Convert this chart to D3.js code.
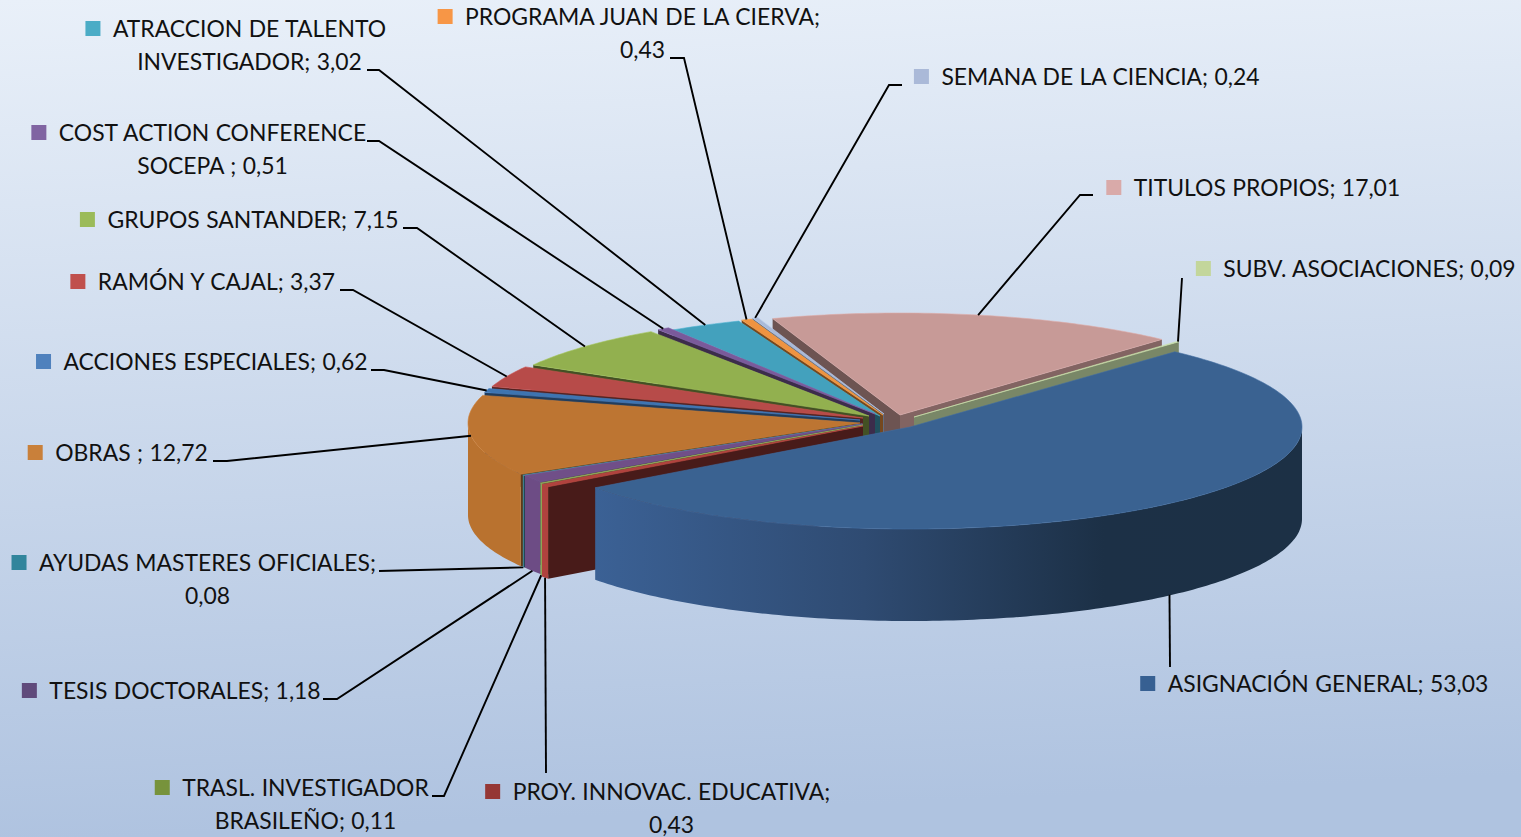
<!DOCTYPE html>
<html>
<head>
<meta charset="utf-8">
<script src="https://cdn.jsdelivr.net/npm/d3@7"></script>
<style>
    html, body { margin: 0; padding: 0; overflow: hidden; }
    text { font-family: Lato, "Open Sans", sans-serif; font-size: 22.9px; word-spacing: 0.6px; fill: #111; }
</style>
</head>
<body>
<div id="chart"></div>
<script>
const width = 1521;
const height = 837;

// data, in pie order (clockwise)
const categories = [
    "ASIGNACIÓN GENERAL", "PROY. INNOVAC. EDUCATIVA", "TRASL. INVESTIGADOR BRASILEÑO",
    "TESIS DOCTORALES", "AYUDAS MASTERES OFICIALES", "OBRAS", "ACCIONES ESPECIALES",
    "RAMÓN Y CAJAL", "GRUPOS SANTANDER", "COST ACTION CONFERENCE SOCEPA",
    "ATRACCION DE TALENTO INVESTIGADOR", "PROGRAMA JUAN DE LA CIERVA", "SEMANA DE LA CIENCIA",
    "TITULOS PROPIOS", "SUBV. ASOCIACIONES"
];
const values = [53.03, 0.43, 0.11, 1.18, 0.08, 12.72, 0.62, 3.37, 7.15, 0.51, 3.02, 0.43, 0.24, 17.01, 0.09];
const labelLines = [
    ["ASIGNACIÓN GENERAL; 53,03"],
    ["PROY. INNOVAC. EDUCATIVA;", "0,43"],
    ["TRASL. INVESTIGADOR", "BRASILEÑO; 0,11"],
    ["TESIS DOCTORALES; 1,18"],
    ["AYUDAS MASTERES OFICIALES;", "0,08"],
    ["OBRAS ; 12,72"],
    ["ACCIONES ESPECIALES; 0,62"],
    ["RAMÓN Y CAJAL; 3,37"],
    ["GRUPOS SANTANDER; 7,15"],
    ["COST ACTION CONFERENCE", "SOCEPA ; 0,51"],
    ["ATRACCION DE TALENTO", "INVESTIGADOR; 3,02"],
    ["PROGRAMA JUAN DE LA CIERVA;", "0,43"],
    ["SEMANA DE LA CIENCIA; 0,24"],
    ["TITULOS PROPIOS; 17,01"],
    ["SUBV. ASOCIACIONES; 0,09"]
];

// colours
const topColors = ["#3a6291", "#b0423e", "#8fa858", "#704f88", "#3a8fa6", "#bd7532", "#3e74b0", "#b74b49",
    "#92b04f", "#7a5a9a", "#43a1bd", "#ef9340", "#a9bad8", "#c79a97", "#b9cf9e"];
const wallColors = ["url(#blueWall)", "#b0423e", "#8fa858", "#6d4c85", "#3a8fa6", "#b9722f", "#3e74b0", "#b74b49",
    "#92b04f", "#7a5a9a", "#43a1bd", "#ef9340", "#a9bad8", "#c79a97", "#7c8660"];
const keyColors = ["#376092", "#953735", "#77933c", "#604a7b", "#31859c", "#c9803a", "#4f81bd", "#c0504d",
    "#9bbb59", "#8064a2", "#4bacc6", "#f79646", "#aab9d8", "#d9aaa9", "#c3d69b"];
const sideDarken = [2, 2.5, 2.2, 2.2, 2.2, 2, 1.8, 2.2, 2.2, 2, 2, 2, 1.5, 1.7, 1];

// pie geometry
const ry = 102;
const depth = 92;
const startDeg = 42.5;
// the picture has a bit of perspective, some back slices come out narrower
const sliceRx = [392, 392, 392, 392, 392, 392, 390, 390, 388, 386, 386, 386, 386, 390, 392];
// where each slice's tip ended up after the explosion
const sliceTips = [[910, 427], [863, 426], [863, 425], [863, 424], [862, 424], [860, 423], [860, 420], [863, 418],
    [869, 416], [875, 414], [880, 416], [883, 415], [884, 414], [900, 415], [914, 417]];

// label layout: text centre x, first line centre y, then the leader start points
const labelCx = [1328, 671.5, 305.5, 185, 207.5, 131.5, 215.5, 216.5, 253, 212.5, 249.5, 642.5, 1100.5, 1267, 1369.5];
const labelY = [684, 792, 788, 691, 563, 453, 362, 282, 220, 133, 29, 17, 77, 188, 269];
const leaderStart = [
    [[1170, 667]],
    [[546, 773]],
    [[432, 796], [444, 796]],
    [[323, 699], [337, 699]],
    [[379, 571]],
    [[213, 461], [227, 461]],
    [[371, 370], [384, 370]],
    [[340, 290], [353, 290]],
    [[403, 228], [417, 228]],
    [[367, 141], [379, 141]],
    [[367, 70], [379, 70]],
    [[670, 58], [684, 58]],
    [[902, 85], [889, 85]],
    [[1093, 195], [1080, 195]],
    [[1182, 278]]
];
// the big slice's leader runs straight down, a little left of its mid angle
const leaderNudge = [-3, 0, 0, 0, 0, 0, 0, 0, 0, 0, 0, 0, 0, 0, 0];

const svg = d3.select("#chart")
    .append("svg")
    .attr("width", width)
    .attr("height", height)
    .style("display", "block");

const defs = svg.append("defs");

const bg = defs.append("linearGradient")
    .attr("id", "bg")
    .attr("x1", 0).attr("y1", 0).attr("x2", 0.08).attr("y2", 1);
bg.append("stop").attr("offset", "0%").attr("stop-color", "#e9f0f9");
bg.append("stop").attr("offset", "100%").attr("stop-color", "#afc3e0");

const blueWall = defs.append("linearGradient")
    .attr("id", "blueWall")
    .attr("gradientUnits", "userSpaceOnUse")
    .attr("x1", 595).attr("y1", 0).attr("x2", 1302).attr("y2", 0);
blueWall.append("stop").attr("offset", "0%").attr("stop-color", "#3b6195");
blueWall.append("stop").attr("offset", "38%").attr("stop-color", "#2f4b72");
blueWall.append("stop").attr("offset", "72%").attr("stop-color", "#1c3046");
blueWall.append("stop").attr("offset", "100%").attr("stop-color", "#1c3045");

svg.append("rect")
    .attr("width", width)
    .attr("height", height)
    .attr("fill", "url(#bg)");

const toRad = d => d * Math.PI / 180;

const slices = d3.pie()
    .sort(null)
    .startAngle(toRad(startDeg))
    .endAngle(toRad(startDeg + 360))(values);

slices.forEach((d, i) => {
    d.tip = sliceTips[i];
    d.rx = sliceRx[i];
    d.mid = (d.startAngle + d.endAngle) / 2;
    d.index = i;
});

function rim(d, a, drop) {
    return [d.tip[0] + Math.sin(a) * d.rx, d.tip[1] - Math.cos(a) * ry + (drop || 0)];
}

function rimPoints(d, a0, a1, drop) {
    const n = Math.max(2, Math.ceil((a1 - a0) / toRad(1)));
    return d3.range(n + 1).map(k => rim(d, a0 + (a1 - a0) * k / n, drop));
}

const line = d3.line();
const closed = pts => line(pts) + "Z";

// back slices first
const drawOrder = slices.slice().sort((a, b) => Math.cos(b.mid) - Math.cos(a.mid));
const pieGroup = svg.append("g");

drawOrder.forEach(d => {
    const g = pieGroup.append("g");
    const tipDown = [d.tip[0], d.tip[1] + depth];
    const fill = topColors[d.index];

    // side walls, only the one that faces the viewer
    if (Math.sin(d.startAngle) < 0) {
        g.append("path")
            .attr("d", closed([d.tip, rim(d, d.startAngle), rim(d, d.startAngle, depth), tipDown]))
            .attr("fill", d3.color(fill).darker(sideDarken[d.index]).formatHex());
    }
    if (Math.sin(d.endAngle) > 0) {
        g.append("path")
            .attr("d", closed([d.tip, rim(d, d.endAngle), rim(d, d.endAngle, depth), tipDown]))
            .attr("fill", d3.color(fill).darker(1.2).formatHex());
    }

    // outer wall, only the part that faces the viewer
    const a0 = Math.max(d.startAngle, toRad(90));
    const a1 = Math.min(d.endAngle, toRad(270));
    if (a1 > a0) {
        const upper = rimPoints(d, a0, a1);
        const lower = rimPoints(d, a0, a1, depth).reverse();
        g.append("path")
            .attr("d", closed(upper.concat(lower)))
            .attr("fill", wallColors[d.index]);
    }

    // top face
    g.append("path")
        .attr("d", closed([d.tip].concat(rimPoints(d, d.startAngle, d.endAngle))))
        .attr("fill", fill)
        .attr("stroke", d3.color(fill).brighter(0.3).formatHex())
        .attr("stroke-width", 0.6);
});

// leader lines, they end on the rim at the middle of each slice
svg.append("g")
    .selectAll("path")
    .data(slices)
    .enter().append("path")
    .attr("d", d => {
        const drop = Math.cos(d.mid) < -0.2 ? depth : 0;
        const end = rim(d, d.mid, drop);
        end[0] += leaderNudge[d.index];
        return line(leaderStart[d.index].concat([end]));
    })
    .attr("fill", "none")
    .attr("stroke", "#000")
    .attr("stroke-width", 1.9);

// labels with their colour keys
const labels = svg.append("g")
    .selectAll("g")
    .data(slices)
    .enter().append("g");

labels.each(function (d) {
    const g = d3.select(this);
    const lines = labelLines[d.index];
    const cx = labelCx[d.index];
    const y = labelY[d.index];

    const texts = lines.map((t, k) => g.append("text")
        .attr("x", cx)
        .attr("y", y + k * 32.6)
        .attr("dy", "0.35em")
        .attr("text-anchor", "middle")
        .text(t));

    const left = cx - texts[0].node().getComputedTextLength() / 2;
    g.append("rect")
        .attr("x", left - 27.5)
        .attr("y", y - 8)
        .attr("width", 15)
        .attr("height", 15)
        .attr("fill", keyColors[d.index]);
});
</script>
</body>
</html>
